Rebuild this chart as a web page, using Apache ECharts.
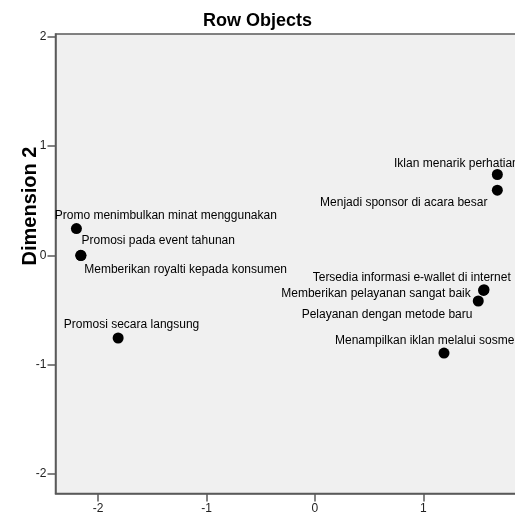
<!DOCTYPE html>
<html>
<head>
<meta charset="utf-8">
<script src="https://cdn.jsdelivr.net/npm/echarts@6/dist/echarts.min.js"></script>
<style>
html,body{margin:0;padding:0;background:#fff;}
#c{width:515px;height:520px;}
</style>
</head>
<body>
<div id="c"></div>
<script>
// ---- data ----
const pointLabels = [
  "Promo menimbulkan minat menggunakan",
  "Promosi pada event tahunan",
  "Memberikan royalti kepada konsumen",
  "Promosi secara langsung",
  "Iklan menarik perhatian",
  "Menjadi sponsor di acara besar",
  "Tersedia informasi e-wallet di internet",
  "Memberikan pelayanan sangat baik",
  "Pelayanan dengan metode baru",
  "Menampilkan iklan melalui sosmed"
];
const dim1 = [-2.200, -2.160, -2.158, -1.815, 1.683, 1.683, 1.560, 1.556, 1.507, 1.191];
const dim2 = [0.245, 0.000, -0.003, -0.758, 0.740, 0.596, -0.315, -0.322, -0.419, -0.896];
const xTicks = [-2, -1, 0, 1];
const yTicks = [-2, -1, 0, 1, 2];
const chartTitle = "Row Objects";
const yTitle = "Dimension 2";

// ---- label placement (layout, px offsets from point) ----
const labelOffsets = [
  [-21.7, -13.3], [0.7, -14.3], [3.3, 14], [-54.3, -13.7], [-103.3, -11],
  [-177.3, 12.7], [-171.3, -11.6], [-202.3, 3.4], [-176.6, 13.6], [-109, -12.7]
];

const data = pointLabels.map((n, i) => ({
  name: n,
  value: [dim1[i], dim2[i]],
  label: { offset: labelOffsets[i] }
}));

const font = "'Liberation Sans', Arial, sans-serif";
const axisCol = '#5a5a5a';

const chart = echarts.init(document.getElementById('c'), null, {renderer: 'canvas'});
chart.setOption({
  animation: false,
  backgroundColor: '#ffffff',
  title: {
    text: chartTitle,
    left: 'center',
    top: 7,
    textStyle: {fontFamily: font, fontSize: 18, fontWeight: 'bold', color: '#000'}
  },
  graphic: [{
    type: 'text',
    x: 30, y: 206,
    rotation: Math.PI / 2,
    style: {
      text: yTitle,
      font: "bold 20px 'Liberation Sans', Arial, sans-serif",
      fill: '#000',
      textAlign: 'center',
      textVerticalAlign: 'middle'
    }
  }],
  grid: {
    left: 55.5, top: 34, width: 476.2, height: 459.5,
    outerBoundsMode: 'none',
    containLabel: false,
    show: true, backgroundColor: '#f0f0f0', borderColor: axisCol, borderWidth: 1.5
  },
  xAxis: {
    type: 'value', min: -2.393, max: 2.0,
    splitLine: {show: false},
    axisLine: {show: true, onZero: false, lineStyle: {color: axisCol, width: 1.5}},
    axisTick: {show: true, length: 8, customValues: xTicks, lineStyle: {color: axisCol, width: 1.5}},
    axisLabel: {customValues: xTicks, margin: 9, color: '#222', fontFamily: font, fontSize: 12,
      formatter: v => String(v)}
  },
  yAxis: {
    type: 'value', min: -2.183, max: 2.0275,
    splitLine: {show: false},
    axisLine: {show: true, onZero: false, lineStyle: {color: axisCol, width: 1.5}},
    axisTick: {show: true, length: 8, customValues: yTicks, lineStyle: {color: axisCol, width: 1.5}},
    axisLabel: {customValues: yTicks, margin: 9, color: '#222', fontFamily: font, fontSize: 12,
      formatter: v => String(v)}
  },
  series: [{
    type: 'scatter',
    symbol: 'circle',
    symbolSize: 11,
    itemStyle: {color: '#000', opacity: 1},
    emphasis: {disabled: true},
    label: {
      show: true,
      position: 'inside',
      align: 'left',
      verticalAlign: 'middle',
      color: '#000',
      fontFamily: font,
      fontSize: 12,
      formatter: p => p.name
    },
    data: data
  }]
});
</script>
</body>
</html>
